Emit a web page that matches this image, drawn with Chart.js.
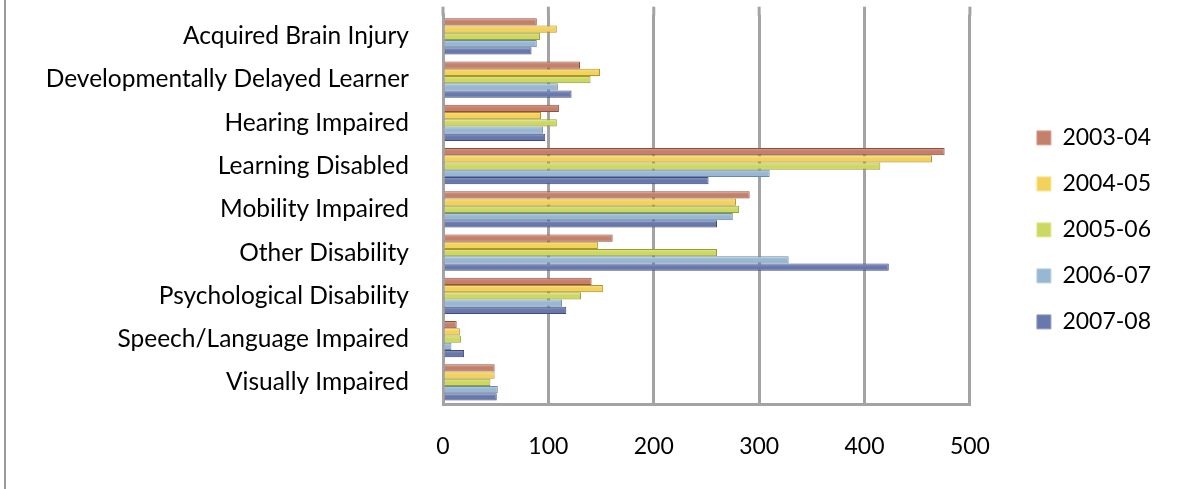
<!DOCTYPE html>
<html>
<head>
<meta charset="utf-8">
<script src="https://cdn.jsdelivr.net/npm/chart.js@4"></script>
<style>
  html, body { margin: 0; padding: 0; background: #fff; }
  #wrap { position: relative; width: 1177px; height: 489px; }
  #leftline { position: absolute; left: 4px; top: 0; width: 2px; height: 489px; background: #9a9a9a; }
  canvas { position: absolute; left: 0; top: 0; }
</style>
</head>
<body>
<div id="wrap">
  <canvas id="c" width="1177" height="489"></canvas>
  <div id="leftline"></div>
</div>
<script>
const categories = [
  "Acquired Brain Injury",
  "Developmentally Delayed Learner",
  "Hearing Impaired",
  "Learning Disabled",
  "Mobility Impaired",
  "Other Disability",
  "Psychological Disability",
  "Speech/Language Impaired",
  "Visually Impaired"
];
const seriesNames = ["2003-04", "2004-05", "2005-06", "2006-07", "2007-08"];
const v2003 = [89, 130, 110, 476, 291, 161, 141, 13, 49];
const v2004 = [108, 149, 93, 464, 278, 147, 152, 16, 49];
const v2005 = [92, 140, 108, 415, 281, 260, 131, 17, 45];
const v2006 = [89, 109, 95, 310, 275, 328, 113, 8, 52];
const v2007 = [84, 122, 97, 252, 260, 423, 117, 20, 51];
const xTicks = [0, 100, 200, 300, 400, 500];

const fills  = ["#C4806B", "#F3D25C", "#CDD863", "#97B7D3", "#6878AD"];
const lights = ["#D9A08E", "#FAE38C", "#E0E78F", "#B9D0E4", "#8D9BC6"];
const edges  = ["#8E5142", "#B8912A", "#959F34", "#6A89A6", "#414C7A"];

const allValues = [v2003, v2004, v2005, v2006, v2007];
const FONT = "Lato, 'Open Sans', sans-serif";
const GRID = '#a3a3a3';
const CAT_PCT = 0.84;

function barFill(i) {
  return (c) => {
    const ch = c.chart;
    const ys = ch.scales.y;
    if (c.type !== 'data' || !ys || !(ys.bottom > ys.top)) return fills[i];
    const catH = (ys.bottom - ys.top) / categories.length;
    const th = catH * CAT_PCT / seriesNames.length;
    const cy = ys.getPixelForValue(c.dataIndex) + (c.datasetIndex - (seriesNames.length - 1) / 2) * th;
    const g = ch.ctx.createLinearGradient(0, cy - th / 2, 0, cy + th / 2);
    g.addColorStop(0, lights[i]);
    g.addColorStop(0.45, fills[i]);
    g.addColorStop(0.8, fills[i]);
    g.addColorStop(1, edges[i]);
    return g;
  };
}

const datasets = seriesNames.map((name, i) => ({
  label: name,
  data: allValues[i],
  backgroundColor: barFill(i),
  borderColor: edges[i],
  borderWidth: 1,
  borderSkipped: 'left',
  categoryPercentage: CAT_PCT,
  barPercentage: 1.0
}));

// extend the back-wall gridlines a little above the plot area
const wallTop = {
  id: 'wallTop',
  beforeDatasetsDraw(chart) {
    const { ctx, chartArea, scales } = chart;
    ctx.save();
    ctx.strokeStyle = GRID;
    ctx.lineWidth = 3;
    xTicks.forEach(v => {
      const px = scales.x.getPixelForValue(v);
      ctx.beginPath();
      ctx.moveTo(px, chartArea.top - 8);
      ctx.lineTo(px, chartArea.top + 1);
      ctx.stroke();
    });
    ctx.restore();
  }
};

new Chart(document.getElementById('c'), {
  type: 'bar',
  data: { labels: categories, datasets },
  plugins: [wallTop],
  options: {
    indexAxis: 'y',
    responsive: false,
    animation: false,
    devicePixelRatio: 1,
    layout: { padding: { top: 13, right: 16, left: 0, bottom: 0 } },
    plugins: {
      tooltip: { enabled: false },
      legend: {
        position: 'right',
        align: 'start',
        title: { display: true, text: '', padding: { top: 38, bottom: 38 }, font: { size: 12 } },
        labels: {
          font: { family: FONT, size: 23 },
          color: '#000',
          boxWidth: 14,
          boxHeight: 14,
          padding: 23,
          generateLabels: () => seriesNames.map((n, i) => ({
            text: n,
            fillStyle: fills[i],
            strokeStyle: lights[i],
            lineWidth: 1,
            hidden: false,
            datasetIndex: i,
            fontColor: '#000'
          }))
        }
      }
    },
    scales: {
      x: {
        type: 'linear',
        min: 0, max: 500,
        afterBuildTicks: (s) => { s.ticks = xTicks.map(v => ({ value: v })); },
        ticks: { font: { family: FONT, size: 23 }, color: '#000', padding: 29 },
        grid: { color: GRID, lineWidth: 3, drawTicks: false },
        border: { display: true, color: GRID, width: 3 },
        afterFit: (s) => { s.height = 85; }
      },
      y: {
        ticks: { font: { family: FONT, size: 24.5 }, color: '#000', padding: 0 },
        grid: { display: false, drawTicks: true, tickLength: 34 },
        border: { display: true, color: GRID, width: 3 },
        afterFit: (s) => { s.width = 443; }
      },
      y2: {
        type: 'category',
        position: 'right',
        display: true,
        ticks: { display: false },
        grid: { display: false, drawTicks: false },
        border: { display: false },
        afterFit: (s) => { s.width = 44; }
      }
    }
  }
});
</script>
</body>
</html>
